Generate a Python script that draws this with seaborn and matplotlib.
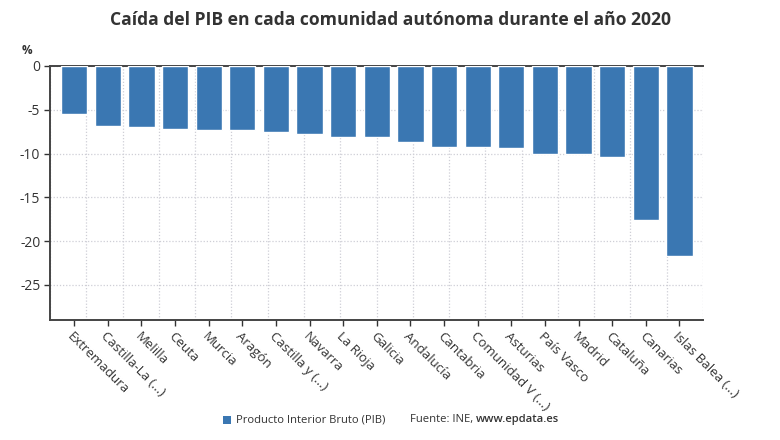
import matplotlib
matplotlib.use("Agg")
import matplotlib.pyplot as plt
import seaborn as sns
import numpy as np
import pandas as pd
from matplotlib.ticker import FixedLocator
from matplotlib.patches import Rectangle

regions = ["Extremadura", "Castilla-La (...)", "Melilla", "Ceuta", "Murcia", "Aragón",
           "Castilla y (...)", "Navarra", "La Rioja", "Galicia", "Andalucía", "Cantabria",
           "Comunidad V (...)", "Asturias", "País Vasco", "Madrid", "Cataluña", "Canarias",
           "Islas Balea (...)"]
values = [-5.5, -6.9, -7.0, -7.2, -7.3, -7.3, -7.5, -7.8, -8.1, -8.1, -8.7, -9.2,
          -9.3, -9.4, -10.1, -10.1, -10.4, -17.6, -21.7]
y_ticks = [0, -5, -10, -15, -20, -25]

title = "Caída del PIB en cada comunidad autónoma durante el año 2020"
legend_label = "Producto Interior Bruto (PIB)"
source_prefix = "Fuente: INE, "
source_site = "www.epdata.es"

sns.set_theme(style="white")
plt.rcParams['font.family'] = ['Open Sans', 'DejaVu Sans']

bar_color = "#3a77b2"
text_color = "#333333"

df = pd.DataFrame({"region": regions, "value": values})

fig = plt.figure(figsize=(7.8, 4.4), dpi=100)
ax = fig.add_axes([0.0641, 0.2727, 0.8372, 0.5773])
sns.barplot(data=df, x="region", y="value", color=bar_color, width=0.78,
            saturation=1, ax=ax, zorder=3)

ax.set_xlim(-0.72, 18.7)
ax.set_ylim(-29, 0)
ax.set_yticks(y_ticks)
ax.set_yticklabels([str(v) for v in y_ticks], fontsize=10, color=text_color)
ax.set_xlabel("")
ax.set_ylabel("")

ax.set_xticks(range(len(regions)))
ax.set_xticklabels(regions, rotation=-45, ha="left", rotation_mode="anchor",
                   fontsize=9.5, color=text_color)
ax.tick_params(axis="x", which="major", length=4, width=1, color=text_color, pad=3,
               bottom=True)
ax.tick_params(axis="y", which="major", length=4, width=1, color=text_color, pad=3,
               left=True)

xl = ax.get_xlim()
ax.xaxis.set_minor_locator(FixedLocator(np.linspace(xl[0], xl[1], 19)))
ax.tick_params(axis="x", which="minor", length=0)
ax.grid(axis="y", which="major", linestyle=(0, (1, 1.5)), color="#cfcfd6", linewidth=0.9, zorder=0)
ax.grid(axis="x", which="minor", linestyle=(0, (1, 1.5)), color="#cfcfd6", linewidth=0.9, zorder=0)
ax.grid(axis="x", which="major", visible=False)

for s in ["left", "bottom", "top"]:
    ax.spines[s].set_color("#444444")
    ax.spines[s].set_linewidth(1.4)
ax.spines["right"].set_visible(False)

fig.text(0.5, 0.955, title, ha="center", va="center", fontsize=12.6,
         fontweight="bold", color=text_color)
fig.text(0.028, 0.885, "%", ha="left", va="center", fontsize=8.5,
         fontweight="bold", color=text_color)

fig.patches.append(Rectangle((0.286, 0.036), 0.0105, 0.019, transform=fig.transFigure,
                             facecolor=bar_color, edgecolor="none"))
fig.text(0.303, 0.046, legend_label, ha="left", va="center", fontsize=8.1, color=text_color)
t1 = fig.text(0.525, 0.046, source_prefix, ha="left", va="center", fontsize=8.1,
              color=text_color)
fig.canvas.draw()
bb = t1.get_window_extent(renderer=fig.canvas.get_renderer())
x_next = bb.x1 / fig.bbox.width
fig.text(x_next, 0.046, source_site, ha="left", va="center", fontsize=8.1,
         fontweight="semibold", color=text_color)

fig.savefig("out.png", dpi=100)
